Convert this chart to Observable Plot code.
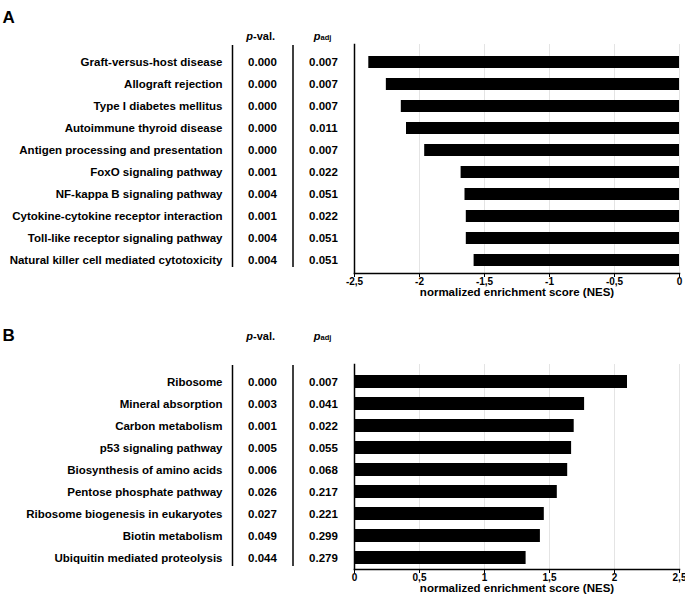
<!DOCTYPE html>
<html>
<head>
<meta charset="utf-8">
<script src="https://cdn.jsdelivr.net/npm/d3@7"></script>
<script src="https://cdn.jsdelivr.net/npm/@observablehq/plot@0.6"></script>
<style>
  body { margin: 0; background: white; }
  svg { display: block; }
</style>
</head>
<body>
<div id="chart"></div>
<script>
// ---- Panel A data ----
const termsA = [
  "Graft-versus-host disease",
  "Allograft rejection",
  "Type I diabetes mellitus",
  "Autoimmune thyroid disease",
  "Antigen processing and presentation",
  "FoxO signaling pathway",
  "NF-kappa B signaling pathway",
  "Cytokine-cytokine receptor interaction",
  "Toll-like receptor signaling pathway",
  "Natural killer cell mediated cytotoxicity"
];
const nesA = [-2.39, -2.255, -2.14, -2.10, -1.96, -1.68, -1.65, -1.64, -1.64, -1.58];
const pvalA = ["0.000", "0.000", "0.000", "0.000", "0.000", "0.001", "0.004", "0.001", "0.004", "0.004"];
const padjA = ["0.007", "0.007", "0.007", "0.011", "0.007", "0.022", "0.051", "0.022", "0.051", "0.051"];
const ticksA = [-2.5, -2, -1.5, -1, -0.5, 0];

// ---- Panel B data ----
const termsB = [
  "Ribosome",
  "Mineral absorption",
  "Carbon metabolism",
  "p53 signaling pathway",
  "Biosynthesis of amino acids",
  "Pentose phosphate pathway",
  "Ribosome biogenesis in eukaryotes",
  "Biotin metabolism",
  "Ubiquitin mediated proteolysis"
];
const nesB = [2.10, 1.77, 1.69, 1.67, 1.64, 1.56, 1.46, 1.43, 1.32];
const pvalB = ["0.000", "0.003", "0.001", "0.005", "0.006", "0.026", "0.027", "0.049", "0.044"];
const padjB = ["0.007", "0.041", "0.022", "0.055", "0.068", "0.217", "0.221", "0.299", "0.279"];
const ticksB = [0, 0.5, 1, 1.5, 2, 2.5];

const axisTitle = "normalized enrichment score (NES)";
const fmt = d => String(d).replace(".", ",");
const FONT = "'Liberation Sans', Arial, sans-serif";

function panel({letter, letterY, terms, nes, pval, padj, ticks, marginTop, marginBottom, yRange, bandPad, sepInsetTop, sepInsetBottom}) {
  const data = terms.map((t, i) => ({term: t, nes: nes[i], pval: pval[i], padj: padj[i]}));
  const x0 = ticks[0];
  const headDy = -(marginTop - 31.5);
  return Plot.plot({
    width: 685,
    height: 300,
    marginLeft: 354,
    marginRight: 6,
    marginTop,
    marginBottom,
    style: {fontFamily: FONT, fontWeight: "bold", fontSize: "11.5px", color: "black", background: "white"},
    x: {domain: [ticks[0], ticks[ticks.length - 1]]},
    y: {domain: terms, range: yRange, paddingInner: bandPad, paddingOuter: 0.1, axis: null},
    marks: [
      Plot.gridX(ticks, {stroke: "#e4e4e4", strokeOpacity: 1}),
      Plot.barX(data, {x: "nes", y: "term", fill: "black"}),
      Plot.frame({anchor: "left", stroke: "black", strokeWidth: 1.5}),
      Plot.frame({anchor: "bottom", stroke: "black", strokeWidth: 1.5}),
      Plot.axisX({ticks, tickFormat: fmt, tickSize: 4, tickPadding: 0.5, fontSize: 10, label: null, stroke: "black"}),
      Plot.text([axisTitle], {frameAnchor: "bottom", dy: 22.5, text: d => d, fontSize: 11.5, fontWeight: "bold"}),
      // row labels & table columns
      Plot.text(data, {y: "term", text: "term", frameAnchor: "left", textAnchor: "end", dx: -132}),
      Plot.ruleX([x0], {dx: -122, stroke: "black", strokeWidth: 1.5, insetTop: sepInsetTop, insetBottom: sepInsetBottom}),
      Plot.text(data, {y: "term", text: "pval", frameAnchor: "left", textAnchor: "middle", dx: -92}),
      Plot.ruleX([x0], {dx: -61.5, stroke: "black", strokeWidth: 1.5, insetTop: sepInsetTop, insetBottom: sepInsetBottom}),
      Plot.text(data, {y: "term", text: "padj", frameAnchor: "left", textAnchor: "middle", dx: -31}),
      // headers
      Plot.text(["p"], {text: d => d, frameAnchor: "top-left", dx: -101.5, dy: headDy, textAnchor: "end", fontStyle: "italic", fontSize: 11}),
      Plot.text(["-val."], {text: d => d, frameAnchor: "top-left", dx: -101.5, dy: headDy, textAnchor: "start", fontSize: 11}),
      Plot.text(["p"], {text: d => d, frameAnchor: "top-left", dx: -34, dy: headDy, textAnchor: "end", fontStyle: "italic", fontSize: 11}),
      Plot.text(["adj"], {text: d => d, frameAnchor: "top-left", dx: -34, dy: headDy + 2.5, textAnchor: "start", fontSize: 7.5}),
      // panel letter
      Plot.text([letter], {text: d => d, frameAnchor: "top-left", dx: -352, dy: -(marginTop - letterY), textAnchor: "start", fontSize: 17, fontWeight: "bold"})
    ]
  });
}

const chart = document.getElementById("chart");
chart.append(panel({
  letter: "A", letterY: 10, terms: termsA, nes: nesA, pval: pvalA, padj: padjA, ticks: ticksA,
  marginTop: 44, marginBottom: 27, yRange: [51.8, 270.9], bandPad: 0.433,
  sepInsetTop: 1, sepInsetBottom: 6
}));
chart.append(panel({
  letter: "B", letterY: 28, terms: termsB, nes: nesB, pval: pvalB, padj: padjB, ticks: ticksB,
  marginTop: 64, marginBottom: 31, yRange: [71.1, 267.5], bandPad: 0.42,
  sepInsetTop: 1, sepInsetBottom: 3
}));
</script>
</body>
</html>
